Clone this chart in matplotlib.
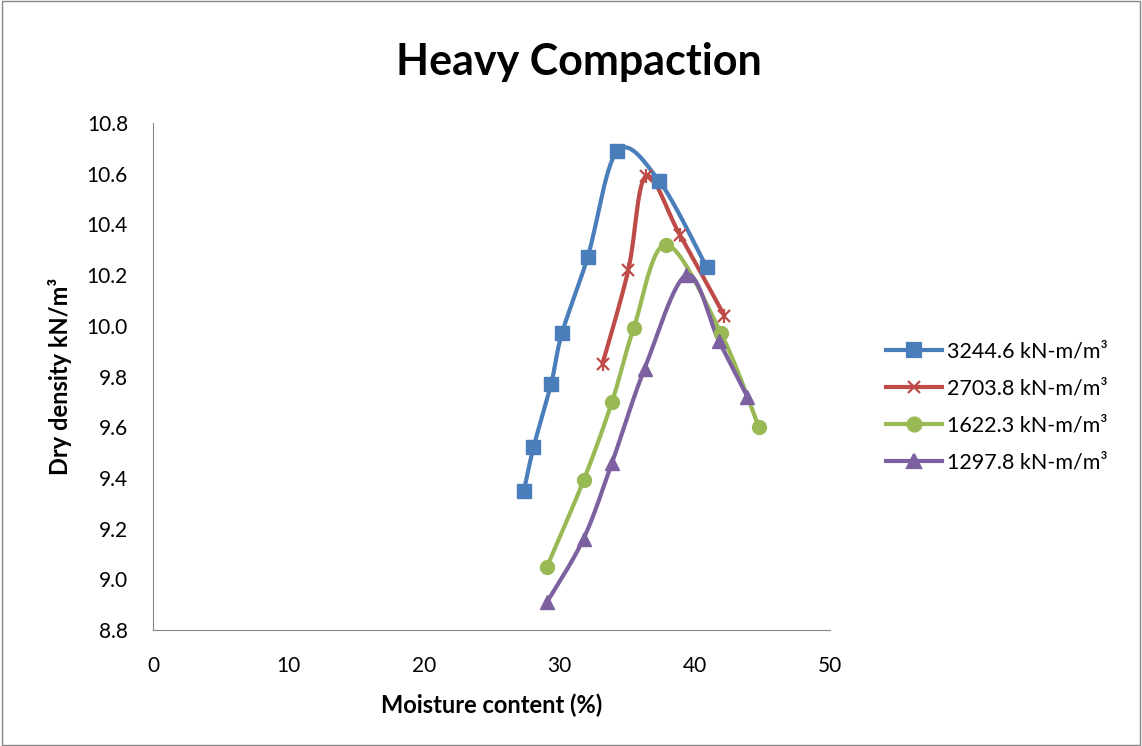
import numpy as np
import matplotlib
matplotlib.use("Agg")
import matplotlib.pyplot as plt
from matplotlib.patches import Rectangle
from matplotlib.lines import Line2D

plt.rcParams['font.family'] = ['Lato', 'DejaVu Sans']

labels = ['3244.6 kN-m/m³', '2703.8 kN-m/m³', '1622.3 kN-m/m³', '1297.8 kN-m/m³']

mc_3244 = [27.4, 28.1, 29.4, 30.2, 32.1, 34.3, 37.4, 40.9]
dd_3244 = [9.35, 9.52, 9.77, 9.97, 10.27, 10.69, 10.57, 10.23]

mc_2703 = [33.2, 35.1, 36.4, 38.9, 42.2]
dd_2703 = [9.85, 10.22, 10.59, 10.36, 10.04]

mc_1622 = [29.1, 31.8, 33.9, 35.5, 37.9, 41.95, 44.75]
dd_1622 = [9.05, 9.39, 9.70, 9.99, 10.32, 9.97, 9.60]

mc_1297 = [29.1, 31.8, 33.9, 36.3, 39.4, 41.8, 43.9]
dd_1297 = [8.91, 9.16, 9.46, 9.83, 10.20, 9.94, 9.72]

colors = ['#4A7EBB', '#BE4B48', '#98B954', '#7D60A0']
markers = ['s', 'x', 'o', '^']


def smooth(x, y, n=30):
    # Excel-style smoothed line: cubic Bezier with Catmull-Rom control points
    x = np.asarray(x, float)
    y = np.asarray(y, float)
    px = np.concatenate([[x[0]], x, [x[-1]]])
    py = np.concatenate([[y[0]], y, [y[-1]]])
    xs, ys = [], []
    t = np.linspace(0, 1, n)
    for i in range(1, len(px) - 2):
        p0 = np.array([px[i], py[i]])
        p3 = np.array([px[i + 1], py[i + 1]])
        p1 = p0 + (np.array([px[i + 1], py[i + 1]]) - np.array([px[i - 1], py[i - 1]])) / 6
        p2 = p3 - (np.array([px[i + 2], py[i + 2]]) - np.array([px[i], py[i]])) / 6
        b = ((1 - t) ** 3)[:, None] * p0 + (3 * (1 - t) ** 2 * t)[:, None] * p1 \
            + (3 * (1 - t) * t ** 2)[:, None] * p2 + (t ** 3)[:, None] * p3
        xs.extend(b[:, 0])
        ys.extend(b[:, 1])
    return xs, ys


fig = plt.figure(figsize=(11.42, 7.46), dpi=100)
ax = fig.add_axes([153 / 1142, 1 - 630 / 746, (830 - 153) / 1142, (630 - 123) / 746])

series = [(mc_3244, dd_3244), (mc_2703, dd_2703), (mc_1622, dd_1622), (mc_1297, dd_1297)]
handles = []
for (x, y), c, m, lab in zip(series, colors, markers, labels):
    sx, sy = smooth(x, y)
    ax.plot(sx, sy, color=c, lw=3, solid_capstyle='round', zorder=2)
    if m == 'x':
        ax.plot(x, y, ls='none', marker='x', ms=9, mew=1.6, color=c, zorder=3)
        ax.plot(x, y, ls='none', marker='|', ms=10, mew=1.6, color=c, zorder=3)
    else:
        ax.plot(x, y, ls='none', marker=m, ms=10, color=c, mec=c, zorder=3)
    handles.append(Line2D([0], [0], color=c, lw=3, marker=m, ms=10 if m != 'x' else 9,
                          mew=1.6, label=lab))

ax.set_xlim(0, 50)
ax.set_ylim(8.8, 10.8)
ax.set_xticks(range(0, 51, 10))
ax.set_yticks(np.arange(8.8, 10.81, 0.2))
ax.yaxis.set_major_formatter(plt.FormatStrFormatter('%.1f'))
for s in ['top', 'right']:
    ax.spines[s].set_visible(False)
for s in ['left', 'bottom']:
    ax.spines[s].set_color('#868686')
ax.tick_params(axis='y', length=0, labelsize=15, pad=18)
ax.tick_params(axis='x', length=0, labelsize=15, pad=19)

ax.set_xlabel('Moisture content (%)', fontsize=17, fontweight='bold')
ax.set_ylabel('Dry density kN/m³', fontsize=17, fontweight='bold')
ax.xaxis.set_label_coords(0.5, (630 - 705) / 507)
ax.yaxis.set_label_coords((60 - 153) / 677, 0.5)
ax.xaxis.label.set_va('center')
ax.yaxis.label.set_va('center')
fig.text(579 / 1142, 1 - 62 / 746, 'Heavy Compaction', fontsize=31, fontweight='bold',
         ha='center', va='center')

fig.legend(handles=handles, loc='center left', bbox_to_anchor=(867 / 1142, 1 - 407 / 746),
           frameon=False, fontsize=15.5, handlelength=2.6, handletextpad=0.2, labelspacing=0.8)

fig.patches.append(Rectangle((0.002, 0.002), 0.996, 0.996, transform=fig.transFigure,
                             fill=False, ec='#868686', lw=1))

fig.savefig('out.png', dpi=100)
